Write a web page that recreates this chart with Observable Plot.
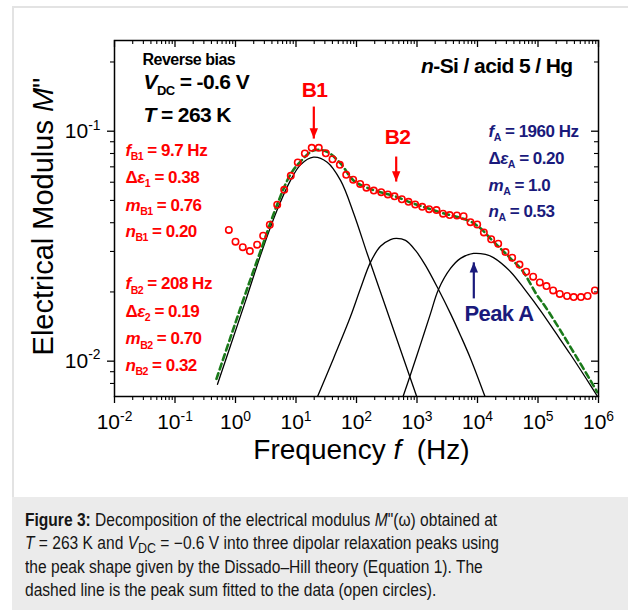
<!DOCTYPE html>
<html><head><meta charset="utf-8">
<script src="https://cdn.jsdelivr.net/npm/d3@7"></script>
<script src="https://cdn.jsdelivr.net/npm/@observablehq/plot@0.6"></script>
<style>
html,body{margin:0;padding:0;background:#fff;width:628px;height:610px;overflow:hidden;font-family:Arial,"Liberation Sans",sans-serif;}
#frame{position:absolute;left:12px;top:6px;width:616px;height:604px;border-left:2px solid #e3e3e3;border-top:2px solid #e3e3e3;}
#chart{position:absolute;left:0;top:0;}
#caption{position:absolute;left:12px;top:497px;width:616px;height:113px;background:#ebebeb;box-sizing:border-box;padding:12px 0 0 13px;font-size:17.5px;line-height:23.3px;color:#151515;white-space:nowrap;}
#caption .inner{transform:scaleX(0.89);transform-origin:0 0;}
#caption sub{font-size:0.8em;line-height:0;vertical-align:-0.25em;}
</style></head><body>
<div id="frame"></div>
<div id="chart"></div>
<div id="caption"><div class="inner"><b>Figure 3:</b> Decomposition of the electrical modulus <i>M</i>"(ω) obtained at<br><i>T</i> = 263 K and <i>V</i><sub>DC</sub> = −0.6 V into three dipolar relaxation peaks using<br>the peak shape given by the Dissado–Hill theory (Equation 1). The<br>dashed line is the peak sum fitted to the data (open circles).</div></div>
<script>
// ---------- measured data (open circles) ----------
const dataFreq = [0.776, 1.0, 1.318, 1.726, 2.28, 2.864, 3.69, 4.89, 6.38, 8.20, 10.7, 14.0, 18.2, 23.8, 31.1, 40.1, 53.0, 67.6, 88.1, 115, 146, 193, 256, 330, 425, 561, 724, 933, 1219, 1585, 2099, 2692, 3467, 4571, 5888, 7656, 9886, 12735, 16827, 21979, 29040, 37411, 49431, 63826, 83176, 107152, 138038, 177828, 229087, 301995, 389045, 512861, 660693, 870964];
const dataM = [0.0372, 0.0331, 0.0313, 0.0301, 0.0321, 0.0351, 0.0392, 0.0479, 0.0556, 0.0640, 0.0731, 0.0800, 0.0847, 0.0847, 0.0802, 0.0755, 0.0714, 0.0646, 0.0615, 0.0590, 0.0568, 0.0552, 0.0543, 0.0531, 0.0521, 0.0506, 0.0493, 0.0480, 0.0469, 0.0458, 0.0454, 0.0438, 0.0432, 0.0430, 0.0427, 0.0402, 0.0393, 0.0363, 0.0339, 0.0324, 0.0298, 0.0282, 0.0263, 0.0245, 0.0233, 0.0220, 0.0212, 0.0203, 0.0196, 0.0192, 0.0190, 0.0190, 0.0192, 0.0203];

// ---------- peak B1 ----------
const b1Freq = [0.504, 0.826, 1.462, 2.76, 4.89, 8.11, 11.86, 19.45, 32.8, 54.5, 90.2, 150, 249, 442, 982];
const b1M = [0.00793, 0.01167, 0.01824, 0.0303, 0.0455, 0.0611, 0.0714, 0.0771, 0.0733, 0.0611, 0.0438, 0.0294, 0.0200, 0.01294, 0.00705];
// ---------- peak B2 ----------
const b2Freq = [22.9, 41.7, 79.6, 116.4, 170, 249, 365, 458, 646, 944, 1380, 2265, 3580, 5236, 7656, 13213];
const b2M = [0.00705, 0.01028, 0.01563, 0.0207, 0.0269, 0.0316, 0.0338, 0.0342, 0.0335, 0.0303, 0.0261, 0.0205, 0.0161, 0.01294, 0.01028, 0.00705];
// ---------- peak A ----------
const aFreq = [592, 782, 1143, 1671, 2265, 3580, 5236, 8590, 13552, 18365, 35075, 62087, 109901, 194536, 344350, 609537, 961600];
const aM = [0.00705, 0.00875, 0.01183, 0.0161, 0.0205, 0.0253, 0.0280, 0.0294, 0.0291, 0.0282, 0.0245, 0.0203, 0.0166, 0.01333, 0.01069, 0.00849, 0.00703];
// ---------- fitted sum (dashed) ----------
const sumFreq = [0.485, 0.826, 1.462, 2.79, 4.89, 8.11, 11.86, 19.45, 31.9, 54.5, 89.1, 146, 249, 442, 782, 1380, 2443, 4325, 7656, 11220, 16406, 23988, 35075, 54828, 97051, 133045, 235505, 416869, 737904, 952796];
const sumM = [0.00838, 0.01268, 0.01968, 0.0318, 0.0480, 0.0649, 0.0738, 0.0824, 0.0816, 0.0724, 0.0611, 0.0569, 0.0543, 0.0520, 0.0490, 0.0466, 0.0443, 0.0426, 0.0405, 0.0378, 0.0341, 0.0309, 0.0280, 0.0248, 0.0193, 0.0172, 0.01358, 0.01059, 0.00824, 0.00733];

// ---------- axes ----------
const xDomain = [0.01, 1e6];
const yDomain = [0.00702, 0.248];
const xMajor = [1e-2, 1e-1, 1e0, 1e1, 1e2, 1e3, 1e4, 1e5, 1e6];
const xExp = [-2, -1, 0, 1, 2, 3, 4, 5, 6];
const xMinor = xMajor.slice(0, -1).flatMap(d => [2,3,4,5,6,7,8,9].map(k => +(k * d).toPrecision(3)));
const yMajor = [0.01, 0.1];
const yExp = [-2, -1];
const yMinor = [0.008, 0.009, 0.02, 0.03, 0.04, 0.05, 0.06, 0.07, 0.08, 0.09, 0.2];

// ---------- annotations ----------
const blackNotes = [
  {f: 0.0290, m: 0.204, text: "Reverse bias", size: 16, anchor: "start"},
  {f: 0.0301, m: 0.163, text: "<i>V</i><sub>DC</sub> = -0.6 V", size: 21, anchor: "start"},
  {f: 0.0301, m: 0.117, text: "<i>T</i> = 263 K", size: 21, anchor: "start"},
  {f: 371535, m: 0.191, text: "<i>n</i>-Si / acid 5 / Hg", size: 21, anchor: "end"}
];
const redNotes = [
  {f: 20.2, m: 0.1514, text: "B1", size: 21, anchor: "middle"},
  {f: 476, m: 0.0939, text: "B2", size: 21, anchor: "middle"},
  {f: 0.0152, m: 0.0824, text: "<i>f</i><sub>B1</sub> = 9.7 Hz", size: 17, anchor: "start"},
  {f: 0.0152, m: 0.0629, text: "Δ<i>ε</i><sub>1</sub> = 0.38", size: 17, anchor: "start"},
  {f: 0.0152, m: 0.0476, text: "<i>m</i><sub>B1</sub> = 0.76", size: 17, anchor: "start"},
  {f: 0.0152, m: 0.0366, text: "<i>n</i><sub>B1</sub> = 0.20", size: 17, anchor: "start"},
  {f: 0.0152, m: 0.0217, text: "<i>f</i><sub>B2</sub> = 208 Hz", size: 17, anchor: "start"},
  {f: 0.0152, m: 0.01644, text: "Δ<i>ε</i><sub>2</sub> = 0.19", size: 17, anchor: "start"},
  {f: 0.0152, m: 0.0125, text: "<i>m</i><sub>B2</sub> = 0.70", size: 17, anchor: "start"},
  {f: 0.0152, m: 0.00957, text: "<i>n</i><sub>B2</sub> = 0.32", size: 17, anchor: "start"}
];
const navyNotes = [
  {f: 15200, m: 0.0997, text: "<i>f</i><sub>A</sub> = 1960 Hz", size: 17, anchor: "start"},
  {f: 15200, m: 0.0760, text: "Δ<i>ε</i><sub>A</sub> = 0.20", size: 17, anchor: "start"},
  {f: 15200, m: 0.0581, text: "<i>m</i><sub>A</sub> = 1.0", size: 17, anchor: "start"},
  {f: 15200, m: 0.0448, text: "<i>n</i><sub>A</sub> = 0.53", size: 17, anchor: "start"},
  {f: 22650, m: 0.01607, text: "Peak A", size: 22, anchor: "middle"}
];
const arrows = [
  {f: 19.7, m1: 0.128, m2: 0.0929, color: "red", dir: "down"},
  {f: 453, m1: 0.0776, m2: 0.0604, color: "red", dir: "down"},
  {f: 8690, m1: 0.01875, m2: 0.0269, color: "navy", dir: "up"}
];

const RED = "#ff0000", NAVY = "#1a1a7c", GREEN = "#1a7a1a";
const zip = (fs, ms) => fs.map((f, i) => ({f, m: ms[i]}));
const circles = zip(dataFreq, dataM);
const b1 = zip(b1Freq, b1M), b2 = zip(b2Freq, b2M), pA = zip(aFreq, aM), sum = zip(sumFreq, sumM);

const triDown = {draw(c, size) { const r = Math.sqrt(size / Math.PI); c.moveTo(0, 0); c.lineTo(-1.4 * r, -3.4 * r); c.lineTo(1.4 * r, -3.4 * r); c.closePath(); }};
const triUp = {draw(c, size) { const r = Math.sqrt(size / Math.PI); c.moveTo(0, 0); c.lineTo(-1.4 * r, 3.4 * r); c.lineTo(1.4 * r, 3.4 * r); c.closePath(); }};

const W = 628, H = 490, mL = 114, mR = 30, mT = 40, mB = 94;
const iw = W - mL - mR, ih = H - mT - mB;
const supFmt = (exps, vals) => d => { const i = vals.indexOf(d); return i < 0 ? "" : "10<sup>" + exps[i] + "</sup>"; };

const noteMarks = (arr, color) => ["start", "middle", "end"].flatMap(anchor => {
  const sub = arr.filter(d => d.anchor === anchor);
  return [...new Set(sub.map(d => d.size))].map(size => Plot.text(sub.filter(d => d.size === size), {
    x: "f", y: "m", text: "text", fill: color, fontSize: size, fontWeight: "bold", textAnchor: anchor
  }));
});

const chart = Plot.plot({
  width: W, height: H,
  marginLeft: mL, marginRight: mR, marginTop: mT, marginBottom: mB,
  x: {type: "log", domain: xDomain},
  y: {type: "log", domain: yDomain},
  style: {fontFamily: "Arial, 'Liberation Sans', sans-serif", background: "transparent", overflow: "visible", color: "black"},
  marks: [
    // ticks: bottom (out), top (in), left (out), right (in)
    Plot.ruleX(xMajor, {x: d => d, insetTop: ih - 7, dy: 7, strokeWidth: 1.3}),
    Plot.ruleX(xMinor, {x: d => d, insetTop: ih - 4, dy: 4, strokeWidth: 1.1}),
    Plot.ruleX(xMajor, {x: d => d, insetBottom: ih - 7, strokeWidth: 1.3}),
    Plot.ruleX(xMinor, {x: d => d, insetBottom: ih - 4, strokeWidth: 1.1}),
    Plot.ruleY(yMajor, {y: d => d, insetRight: iw - 7, dx: -7, strokeWidth: 1.3}),
    Plot.ruleY(yMinor, {y: d => d, insetRight: iw - 4, dx: -4, strokeWidth: 1.1}),
    Plot.ruleY(yMajor, {y: d => d, insetLeft: iw - 7, strokeWidth: 1.3}),
    Plot.ruleY(yMinor, {y: d => d, insetLeft: iw - 4, strokeWidth: 1.1}),
    Plot.axisX(xMajor, {anchor: "bottom", tickSize: 0, tickPadding: 18, fontSize: 21, tickFormat: supFmt(xExp, xMajor), label: null}),
    Plot.axisY(yMajor, {anchor: "left", tickSize: 0, tickPadding: 14, fontSize: 21, tickFormat: supFmt(yExp, yMajor), label: null}),
    Plot.text(["Electrical Modulus <i>M</i>\""], {frameAnchor: "left", textAnchor: "middle", rotate: -90, dx: -71, dy: -2, fontSize: 29, fill: "black"}),
    Plot.text(["Frequency <i>f</i>\u00a0 (Hz)"], {frameAnchor: "bottom", textAnchor: "middle", dy: 62, dx: 5, fontSize: 28, fill: "black"}),
    // curves
    Plot.line(b1, {x: "f", y: "m", stroke: "black", strokeWidth: 1.3, curve: "catmull-rom", clip: true}),
    Plot.line(b2, {x: "f", y: "m", stroke: "black", strokeWidth: 1.3, curve: "catmull-rom", clip: true}),
    Plot.line(pA, {x: "f", y: "m", stroke: "black", strokeWidth: 1.3, curve: "catmull-rom", clip: true}),
    Plot.line(sum, {x: "f", y: "m", stroke: GREEN, strokeWidth: 2.6, strokeDasharray: "6,4", curve: "catmull-rom", clip: true}),
    Plot.dot(circles, {x: "f", y: "m", r: 3.2, stroke: RED, fill: "none", strokeWidth: 1.6}),
    // arrows
    Plot.link(arrows, {x1: "f", x2: "f", y1: "m1", y2: "m2", stroke: d => d.color === "red" ? RED : NAVY, strokeWidth: 2.2}),
    Plot.dot(arrows.filter(d => d.dir === "down"), {x: "f", y: "m2", symbol: triDown, r: 3, fill: RED, stroke: "none"}),
    Plot.dot(arrows.filter(d => d.dir === "up"), {x: "f", y: "m2", symbol: triUp, r: 3, fill: NAVY, stroke: "none"}),
    // annotations
    ...noteMarks(blackNotes, "black"),
    ...noteMarks(redNotes, RED),
    ...noteMarks(navyNotes, NAVY),
    Plot.frame({stroke: "black", strokeWidth: 1.5})
  ]
});
document.getElementById("chart").appendChild(chart);

// rich-text markup (<i>, <sub>, <sup>) -> tspans
const NS = "http://www.w3.org/2000/svg";
chart.querySelectorAll("text").forEach(el => {
  const s = el.textContent;
  if (!s.includes("<")) return;
  const fs = parseFloat(getComputedStyle(el).fontSize) || 12;
  el.textContent = "";
  let italic = false, mode = null, shift = 0, last = 0, m;
  const re = /<(\/?)(i|sub|sup)>/g;
  const emit = str => {
    if (!str) return;
    const t = document.createElementNS(NS, "tspan");
    t.textContent = str;
    if (italic) t.setAttribute("font-style", "italic");
    if (mode) t.setAttribute("font-size", (mode === "sup" ? 0.66 : 0.62) * fs + "px");
    const target = mode === "sub" ? 0.26 * fs : mode === "sup" ? -0.4 * fs : 0;
    if (target !== shift) { t.setAttribute("dy", target - shift); shift = target; }
    el.appendChild(t);
  };
  while ((m = re.exec(s))) {
    emit(s.slice(last, m.index));
    last = re.lastIndex;
    const close = m[1] === "/";
    if (m[2] === "i") italic = !close; else mode = close ? null : m[2];
  }
  emit(s.slice(last));
});
chart.querySelectorAll('g[font-weight="bold"] text').forEach(t => {
  const fs = parseFloat(getComputedStyle(t).fontSize) || 12;
  t.style.letterSpacing = (fs > 20 ? -0.6 : -0.5) + "px";
});
</script>
</body></html>
